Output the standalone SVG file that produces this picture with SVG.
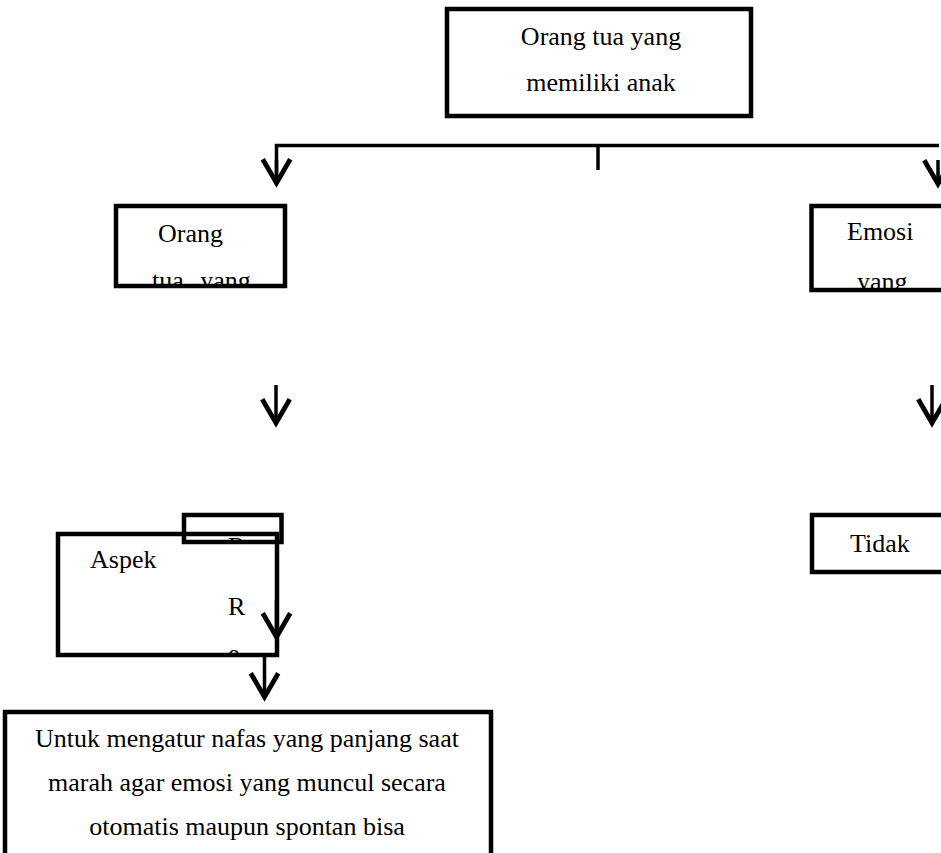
<svg xmlns="http://www.w3.org/2000/svg" width="941" height="853" viewBox="0 0 941 853">
<style>
.box{fill:none;stroke:#000;stroke-width:4.5}
.ln{fill:none;stroke:#000;stroke-width:3.5}
.t{font-family:"Liberation Serif","Times New Roman",serif;font-size:26px;fill:#000}
.m{text-anchor:middle}
</style>
<defs>
<marker id="ah" markerUnits="userSpaceOnUse" markerWidth="40" markerHeight="40" viewBox="-25 -16 30 32" refX="0" refY="0" orient="auto" overflow="visible">
<path d="M-19,-11 L0,0 L-19,11" fill="none" stroke="#000" stroke-width="3.8"/>
</marker>
<clipPath id="cl1"><rect x="118" y="208" width="165" height="77"/></clipPath>
<clipPath id="cl2"><rect x="814" y="208" width="130" height="80"/></clipPath>
<clipPath id="cl3"><rect x="186" y="517" width="93" height="23"/></clipPath>
<clipPath id="cl4"><rect x="60" y="536" width="215" height="117"/></clipPath>
</defs>
<rect width="941" height="853" fill="#fff"/>
<g id="connectors">
<path class="ln" d="M276.5,183 V145.5 H939"/>
<path class="ln" d="M276.5,160 V183" marker-end="url(#ah)"/>
<path class="ln" d="M938,160 V184" marker-end="url(#ah)"/>
<path class="ln" d="M598,146 V170"/>
<path class="ln" d="M276,385 V423" marker-end="url(#ah)"/>
<path class="ln" d="M932,385 V423" marker-end="url(#ah)"/>
<path class="ln" d="M276.5,600 V637" marker-end="url(#ah)"/>
<path class="ln" d="M264.5,657 V697" marker-end="url(#ah)"/>
</g>
<g id="node-top">
<rect class="box" x="447" y="9" width="304" height="107"/>
<text class="t m" x="601" y="45">Orang tua yang</text>
<text class="t m" x="601" y="91">memiliki anak</text>
</g>
<g id="node-left">
<g clip-path="url(#cl1)">
<text class="t" x="158" y="242">Orang</text>
<text class="t" x="152" y="289" word-spacing="10">tua yang</text>
</g>
<rect class="box" x="116" y="206" width="169" height="80"/>
</g>
<g id="node-right">
<g clip-path="url(#cl2)">
<text class="t" x="847" y="240">Emosi</text>
<text class="t" x="857" y="290">yang</text>
</g>
<rect class="box" x="811.5" y="206" width="140" height="84"/>
</g>
<g id="node-tidak">
<rect class="box" x="812" y="515" width="140" height="57"/>
<text class="t" x="850" y="552">Tidak</text>
</g>
<g id="node-aspek">
<g clip-path="url(#cl4)">
<text class="t" x="90" y="568">Aspek</text>
<text class="t" x="228" y="615">R</text>
<text class="t" x="228" y="662">e</text>
</g>
<rect class="box" x="58" y="534" width="219" height="121"/>
</g>
<g id="node-res">
<g clip-path="url(#cl3)">
<text class="t" x="228" y="555">Res</text>
</g>
<rect class="box" x="184" y="515" width="97.5" height="27"/>
</g>
<g id="node-bottom">
<rect class="box" x="5" y="712" width="486" height="200"/>
<text class="t m" x="247" y="747" font-size="26.5">Untuk mengatur nafas yang panjang saat</text>
<text class="t m" x="247" y="791" font-size="26.5">marah agar emosi yang muncul secara</text>
<text class="t m" x="247" y="835" font-size="26.5">otomatis maupun spontan bisa</text>
</g>
</svg>
